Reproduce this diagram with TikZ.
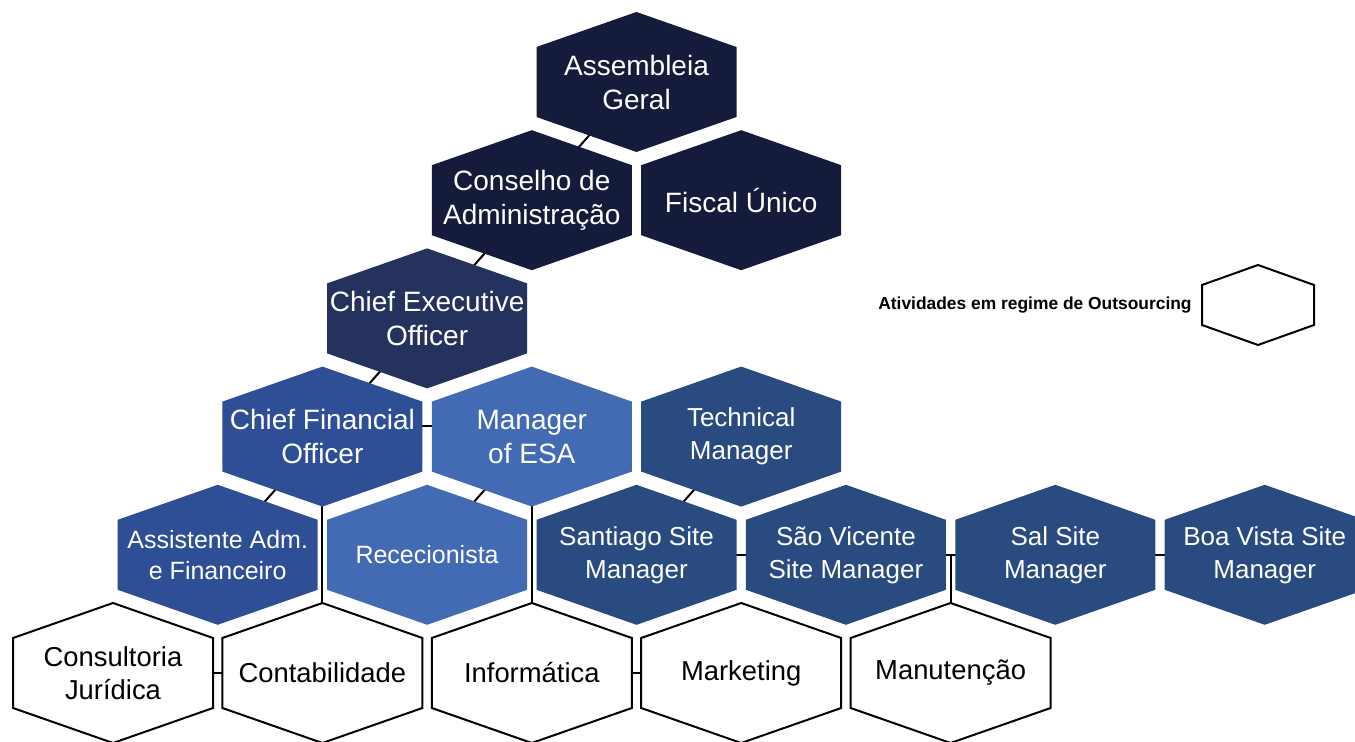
\documentclass[tikz,border=0pt]{standalone}
\usepackage{fontspec}
\setmainfont{Liberation Sans}
\usepackage{tikz}
\pgfdeclarelayer{bg}
\pgfsetlayers{bg,main}
\definecolor{navy}{HTML}{141B3B}
\definecolor{ceoblue}{HTML}{25325E}
\definecolor{cfoblue}{HTML}{2E4F96}
\definecolor{esablue}{HTML}{426BB3}
\definecolor{siteblue}{HTML}{294B80}
\tikzset{hexlabel/.style={text=white,align=center,inner sep=0pt,font=\fontsize{14}{17}\selectfont},
         smalllabel/.style={hexlabel,font=\fontsize{12.5}{15.5}\selectfont},
         sitelabel/.style={hexlabel,font=\fontsize{13}{16.5}\selectfont},
         outlabel/.style={hexlabel,text=black,font=\fontsize{13.7}{16.5}\selectfont},
         outhex/.style={fill=white,draw=black,line width=1pt},
         link/.style={draw=black,line width=1pt}}
% hexagon: name, centre, fill style, label style, text
\newcommand{\hexcell}[5]{%
  \path[#3] (#2) ++(0,-70) -- ++(100,35) -- ++(0,70) -- ++(-100,35) -- ++(-100,-35) -- ++(0,-70) -- cycle;
  \node[#4] (#1) at (#2) {#5};}
\begin{document}
\begin{tikzpicture}[x=0.5pt,y=-0.5pt]
\useasboundingbox (0,0) rectangle (1355,742);
% governance
\hexcell{ag}{636.5,82}{fill=navy}{hexlabel}{Assembleia\\Geral}
\hexcell{ca}{531.8,200.2}{fill=navy}{hexlabel}{Conselho de\\Administração}
\hexcell{fu}{741.2,200.2}{fill=navy}{hexlabel}{Fiscal Único}
\hexcell{ceo}{427.1,318.4}{fill=ceoblue}{hexlabel}{Chief Executive\\Officer}
% managers
\hexcell{cfo}{322.4,436.6}{fill=cfoblue}{hexlabel}{Chief Financial\\Officer}
\hexcell{esa}{531.8,436.6}{fill=esablue}{hexlabel}{Manager\\of ESA}
\hexcell{tm}{741.2,436.6}{fill=siteblue}{sitelabel}{Technical\\Manager}
% staff and sites
\hexcell{aaf}{217.7,554.8}{fill=cfoblue}{smalllabel}{Assistente Adm.\\e Financeiro}
\hexcell{rec}{427.1,554.8}{fill=esablue}{smalllabel}{Rececionista}
\hexcell{stg}{636.5,554.8}{fill=siteblue}{sitelabel}{Santiago Site\\Manager}
\hexcell{svc}{845.9,554.8}{fill=siteblue}{sitelabel}{São Vicente\\Site Manager}
\hexcell{sal}{1055.3,554.8}{fill=siteblue}{sitelabel}{Sal Site\\Manager}
\hexcell{bvs}{1264.7,554.8}{fill=siteblue}{sitelabel}{Boa Vista Site\\Manager}
% outsourcing
\hexcell{cj}{113,673}{outhex}{outlabel}{Consultoria\\Jurídica}
\hexcell{cont}{322.4,673}{outhex}{outlabel}{Contabilidade}
\hexcell{inf}{531.8,673}{outhex}{outlabel}{Informática}
\hexcell{mkt}{741.2,673}{outhex}{outlabel}{Marketing}
\hexcell{man}{950.6,673}{outhex}{outlabel}{Manutenção}
% legend
\path[outhex] (1258,265) -- (1314,285) -- (1314,325) -- (1258,345) -- (1202,325) -- (1202,285) -- cycle;
\node[anchor=east,inner sep=0pt,font=\fontsize{8.7}{10}\selectfont\bfseries] (legend) at (1192,305) {Atividades em regime de Outsourcing};
% connectors
\begin{pgfonlayer}{bg}
\draw[link] (ag) -- (ca);
\draw[link] (ca) -- (ceo);
\draw[link] (ceo) -- (cfo);
\draw[link] ([yshift=5.5pt]cfo.center) -- ([yshift=5.5pt]esa.center);
\draw[link] (cfo) -- (aaf);
\draw[link] (cfo) -- (cont);
\draw[link] (esa) -- (rec);
\draw[link] (esa) -- (inf);
\draw[link] (tm) -- (stg);
\draw[link] (stg) -- (svc) -- (sal) -- (bvs);
\draw[link] (man) -- (man |- sal);
\draw[link] (cj) -- (cont);
\draw[link] (inf) -- (mkt);
\end{pgfonlayer}
\end{tikzpicture}
\end{document}
